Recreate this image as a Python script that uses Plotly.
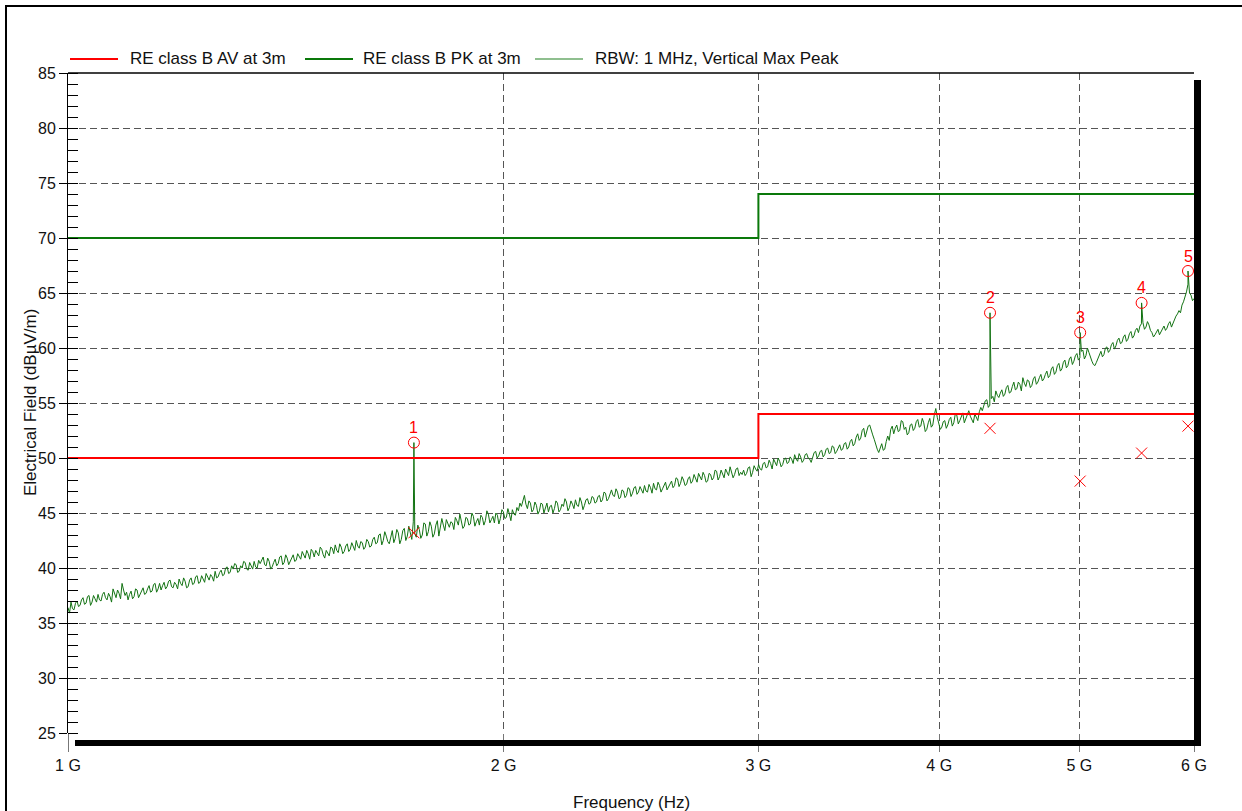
import numpy as np
import plotly.graph_objects as go

# ---- sweep data -------------------------------------------------------------
sweep_start_hz = 1e9
sweep_stop_hz = 6e9

# Max-peak level on the even sweep bins (dBuV/m), 376 bins from 1 GHz to 6 GHz
sweep_level_dbuv = [
    36.4, 36.9, 36.2, 37.0, 36.6, 37.3, 36.8, 37.5, 36.9, 37.2, 37.6, 37.0, 37.8, 37.1, 37.4, 38.1, 37.3, 37.7, 38.6, 37.5, 37.1, 37.9, 37.4, 38.0, 37.6,
    38.2, 37.7, 38.4, 37.9, 38.6, 38.1, 38.0, 38.7, 38.3, 38.9, 38.2, 38.5, 39.0, 38.4, 38.8, 38.3, 39.1, 38.6, 39.3, 38.7, 39.0, 39.5, 38.9, 39.2, 39.7,
    39.2, 39.8, 39.4, 40.1, 39.6, 39.9, 40.3, 39.7, 40.0, 40.5, 39.8, 40.2, 40.6, 40.0, 40.4, 41.0, 40.2, 40.6, 40.1, 40.8, 40.4, 41.1, 40.5, 40.9, 40.6,
    41.2, 40.7, 41.0, 41.5, 40.9, 41.3, 41.7, 41.0, 41.4, 41.9, 41.2, 41.6, 41.1, 41.8, 42.1, 41.4, 41.9, 41.5, 42.2, 41.7, 42.0, 42.5, 41.8, 42.3, 41.9,
    42.4, 42.0, 42.8, 42.3, 43.1, 42.5, 42.9, 42.2, 43.4, 42.7, 43.2, 42.6, 43.6, 42.9, 43.3, 44.2, 42.8, 43.5, 43.0, 44.0, 43.3, 43.8, 43.1, 44.3, 43.6,
    43.9, 44.4, 43.7, 44.1, 44.6, 43.9, 44.3, 43.8, 44.5, 44.0, 44.7, 44.2, 43.9, 44.6, 44.3, 44.9, 44.4, 44.1, 44.8, 44.5, 45.1, 44.6, 44.9, 45.3, 44.8,
    45.2, 45.6, 46.6, 45.4, 45.9, 45.3, 45.7, 45.2, 45.8, 45.5, 45.1, 45.7, 45.4, 45.9, 45.3, 45.6, 46.0, 45.5, 45.8, 46.2, 45.6, 46.0, 45.7, 46.3, 45.9,
    46.4, 46.0, 46.6, 46.2, 46.8, 46.3, 47.1, 46.5, 46.9, 46.4, 47.0, 46.6, 47.2, 46.8, 47.4, 46.9, 47.1, 47.5, 46.9, 47.3, 47.7, 47.1, 47.5, 47.2, 47.8,
    47.4, 47.9, 47.5, 48.1, 47.7, 48.0, 47.6, 48.3, 47.9, 48.2, 48.6, 48.0, 48.4, 47.9, 48.5, 48.2, 48.8, 48.3, 48.6, 49.0, 48.4, 48.8, 48.5, 49.1, 48.7,
    48.9, 48.6, 49.2, 48.7, 49.0, 49.4, 48.9, 49.6, 49.2, 49.5, 49.9, 49.3, 49.7, 49.4, 50.0, 49.6, 49.9, 50.3, 49.7, 50.1, 49.8, 50.4, 49.9, 50.2, 50.6,
    50.2, 50.7, 50.3, 50.9, 50.5, 51.0, 50.6, 51.2, 50.8, 51.4, 51.0, 51.7, 51.3, 52.2, 51.8, 52.7, 52.3, 53.0, 52.1, 51.2, 50.5, 51.3, 50.8, 52.0, 52.6,
    52.2, 53.0, 52.5, 53.3, 52.8, 52.3, 53.1, 52.7, 53.5, 52.9, 53.2, 52.6, 53.6, 53.0, 54.5, 53.2, 52.8, 53.4, 53.0, 53.7, 53.2, 53.9, 53.4, 54.1, 53.6,
    54.3, 53.5, 54.0, 53.4, 54.6, 54.9, 55.3, 54.8, 55.6, 56.1, 55.5, 56.2, 55.8, 56.6, 56.0, 56.9, 56.3, 56.7, 57.3, 56.5, 57.0, 56.6, 57.4, 56.9, 57.6,
    57.2, 57.9, 57.5, 58.3, 57.8, 58.6, 58.1, 58.9, 58.4, 59.2, 58.8, 59.5, 59.1, 59.8, 59.3, 59.6, 58.8, 58.4, 59.1, 59.7, 59.4, 60.1, 59.8, 60.5, 60.2,
    60.9, 60.5, 61.2, 60.8, 61.5, 61.1, 61.8, 62.0, 62.3, 61.9, 62.1, 61.4, 61.2, 61.7, 61.5, 62.0, 61.8, 62.4, 62.3, 62.9, 63.4, 63.9, 64.6, 65.8, 64.8,
    64.5,
]

# Max-peak level on the odd sweep bins (between the even ones), 375 bins
sweep_level_odd_dbuv = [
    35.9, 36.3, 36.8, 36.5, 37.1, 36.7, 37.4, 36.6, 37.5, 36.9, 37.1, 37.6, 37.3, 37.7, 36.9, 37.6, 38.0, 37.2, 38.0, 37.8, 37.6, 37.2, 38.1, 37.3, 38.0,
    37.6, 38.1, 37.8, 38.5, 37.8, 38.6, 38.4, 38.1, 38.8, 38.3, 38.7, 38.1, 38.6, 39.1, 38.2, 38.9, 38.5, 39.2, 38.6, 39.3, 38.7, 39.1, 39.4, 38.8, 39.1,
    39.6, 39.3, 40.0, 39.5, 40.2, 40.4, 39.6, 40.2, 40.6, 39.9, 40.5, 39.9, 40.1, 40.7, 40.8, 40.3, 40.9, 39.9, 40.5, 40.2, 41.0, 40.3, 41.2, 40.3, 41.0,
    40.6, 41.3, 40.8, 41.2, 41.6, 40.8, 41.5, 41.6, 41.1, 41.7, 40.9, 41.4, 41.9, 41.3, 41.6, 42.2, 41.3, 42.0, 41.5, 42.3, 41.6, 42.0, 42.4, 41.7, 42.6,
    41.9, 42.6, 42.2, 43.0, 42.1, 43.3, 42.4, 43.0, 42.3, 43.5, 42.2, 43.4, 42.5, 43.8, 42.6, 43.1, 43.9, 42.7, 44.1, 42.9, 44.2, 42.8, 43.9, 42.9, 44.5,
    43.4, 44.0, 44.2, 43.5, 44.3, 44.9, 43.6, 44.6, 43.9, 45.0, 43.8, 44.5, 44.8, 43.9, 45.2, 44.1, 44.7, 45.0, 44.0, 45.3, 44.5, 45.4, 44.3, 44.9, 45.5,
    45.9, 46.2, 45.8, 46.1, 45.1, 46.0, 44.9, 45.9, 45.0, 45.9, 45.6, 45.0, 46.1, 45.1, 45.8, 46.3, 45.2, 46.1, 45.4, 45.7, 46.4, 45.3, 46.2, 45.8, 46.5,
    45.9, 46.5, 46.0, 46.9, 46.1, 46.7, 46.6, 47.2, 46.3, 47.1, 46.4, 47.3, 46.5, 47.3, 46.7, 47.4, 46.8, 47.0, 47.6, 46.8, 47.2, 47.8, 46.9, 47.6, 47.1,
    47.7, 47.3, 48.2, 47.4, 48.3, 47.5, 48.1, 47.7, 48.5, 47.8, 48.2, 48.7, 47.8, 48.6, 48.0, 48.9, 48.0, 48.9, 48.2, 48.6, 49.2, 48.2, 49.0, 48.4, 48.5,
    48.4, 49.1, 48.3, 49.3, 48.8, 49.0, 49.5, 49.1, 49.8, 49.0, 49.6, 50.0, 49.2, 49.9, 49.5, 50.1, 49.5, 49.9, 50.4, 49.6, 50.3, 50.0, 49.6, 50.5, 50.0,
    50.6, 50.1, 50.8, 50.4, 51.1, 50.4, 51.0, 50.7, 51.3, 50.8, 51.5, 51.1, 51.9, 51.6, 52.5, 51.9, 52.9, 52.4, 51.7, 50.8, 50.9, 50.7, 51.5, 51.6, 52.9,
    52.7, 52.4, 53.4, 52.6, 52.1, 53.0, 52.5, 53.3, 52.8, 53.6, 52.4, 53.2, 52.8, 53.9, 53.7, 52.6, 53.3, 52.7, 53.5, 52.9, 54.0, 53.1, 53.8, 53.2, 54.0,
    53.8, 53.2, 53.7, 54.2, 54.3, 55.2, 54.6, 55.4, 55.1, 55.7, 55.9, 55.6, 56.4, 55.9, 56.5, 56.2, 56.9, 56.1, 56.8, 57.1, 56.4, 57.2, 56.7, 57.3, 57.0,
    57.6, 57.3, 58.1, 57.6, 58.4, 57.9, 58.7, 58.2, 59.0, 58.5, 59.3, 58.9, 59.7, 59.0, 60.0, 59.1, 58.5, 58.7, 59.5, 59.2, 60.0, 59.6, 60.3, 59.9, 60.7,
    60.4, 61.0, 60.6, 61.3, 60.9, 61.6, 61.4, 62.2, 61.7, 62.4, 61.6, 61.0, 61.5, 61.2, 61.8, 61.6, 62.2, 61.9, 62.6, 63.1, 63.2, 64.2, 65.1, 65.0, 64.3,
]

# ---- final measurement markers -----------------------------------------------
marker_labels = ["1", "2", "3", "4", "5"]
marker_freq_ghz = [1.734, 4.337, 5.006, 5.52, 5.943]
marker_peak_dbuv = [51.4, 63.2, 61.4, 64.1, 67.0]
marker_avg_dbuv = [43.2, 52.7, 47.9, 50.45, 52.9]

# ---- limit lines (class B at 3 m) ---------------------------------------------
limit_edges_ghz = [1, 3, 6]
av_limit_dbuv = [50, 54, 54]
pk_limit_dbuv = [70, 74, 74]

# ---- axis ticks ---------------------------------------------------------------
x_tick_ghz = [1, 2, 3, 4, 5, 6]
x_tick_text = ["1 G", "2 G", "3 G", "4 G", "5 G", "6 G"]
y_range = [25, 85]

legend_names = ["RE class B AV at 3m", "RE class B PK at 3m", "RBW: 1 MHz, Vertical Max Peak"]

FONT = "Liberation Sans, Arial, sans-serif"
RED = "#ff0000"
DARK_GREEN = "#0a780a"
TRACE_GREEN = "#137313"
LEGEND_TRACE_GREEN = "#6aaa6a"
GRID = "#555555"
TEXT = "#111111"

# interleave even/odd bins into one sweep, then merge the marker peaks in
n_even = len(sweep_level_dbuv)
n_odd = len(sweep_level_odd_dbuv)
sweep_level = np.empty(n_even + n_odd)
sweep_level[0::2] = sweep_level_dbuv
sweep_level[1::2] = sweep_level_odd_dbuv
sweep_freq = np.geomspace(sweep_start_hz, sweep_stop_hz, len(sweep_level))

marker_freq_hz = np.array(marker_freq_ghz) * 1e9
all_freq = np.concatenate([sweep_freq, marker_freq_hz])
all_level = np.concatenate([sweep_level, np.array(marker_peak_dbuv)])
order = np.argsort(all_freq)
all_freq = all_freq[order]
all_level = all_level[order]

limit_edges_hz = [g * 1e9 for g in limit_edges_ghz]

fig = go.Figure()

fig.add_trace(go.Scatter(
    x=all_freq, y=all_level, mode="lines", name=legend_names[2],
    line=dict(color=TRACE_GREEN, width=1), showlegend=False,
))
fig.add_trace(go.Scatter(
    x=limit_edges_hz, y=av_limit_dbuv, mode="lines", name=legend_names[0],
    line=dict(color=RED, width=2, shape="hv"), showlegend=False,
))
fig.add_trace(go.Scatter(
    x=limit_edges_hz, y=pk_limit_dbuv, mode="lines", name=legend_names[1],
    line=dict(color=DARK_GREEN, width=2, shape="hv"), showlegend=False,
))
fig.add_trace(go.Scatter(
    x=marker_freq_hz, y=marker_peak_dbuv, mode="markers", name="Peak",
    marker=dict(symbol="circle-open", size=11, color=RED, line=dict(width=1, color=RED)),
    showlegend=False,
))
fig.add_trace(go.Scatter(
    x=marker_freq_hz, y=marker_avg_dbuv, mode="markers", name="Average",
    marker=dict(symbol="x-thin-open", size=11, color=RED, line=dict(width=1, color=RED)),
    showlegend=False,
))

# marker numbers above the peak circles
for lab, f, v in zip(marker_labels, marker_freq_hz, marker_peak_dbuv):
    fig.add_annotation(
        x=np.log10(f), y=v, text=lab, showarrow=False, yshift=15,
        font=dict(family=FONT, size=16, color=RED),
    )

# plot-area geometry in pixels
W, H = 1242, 811
L, R, T, B = 68, 1194, 73, 733
PW, PH = R - L, B - T


def px(xp):
    return (xp - L) / PW


def py(yp):
    return (B - yp) / PH


shapes = []
# outer frame (left and top edges) as thin filled bars
shapes.append(dict(type="rect", xref="paper", yref="paper",
                   x0=px(5), x1=px(7), y0=py(5), y1=py(H),
                   fillcolor="black", line=dict(width=0)))
shapes.append(dict(type="rect", xref="paper", yref="paper",
                   x0=px(5), x1=px(W), y0=py(5), y1=py(7),
                   fillcolor="black", line=dict(width=0)))
# top edge of the plot area
shapes.append(dict(type="line", xref="paper", yref="paper",
                   x0=0, x1=1, y0=1, y1=1, line=dict(color="black", width=1.5)))
# drop shadow along the bottom and right of the plot area
shapes.append(dict(type="rect", xref="paper", yref="paper",
                   x0=px(75), x1=px(1201), y0=py(740), y1=py(746),
                   fillcolor="black", line=dict(width=0)))
shapes.append(dict(type="rect", xref="paper", yref="paper",
                   x0=px(1194), x1=px(1201), y0=py(80), y1=py(746),
                   fillcolor="black", line=dict(width=0)))

# legend row along the top
legend_items = [
    (70, 118, 128, RED, 2, legend_names[0]),
    (305, 353, 361, DARK_GREEN, 2, legend_names[1]),
    (535, 583, 593, LEGEND_TRACE_GREEN, 1.5, legend_names[2]),
]
for x0, x1, xt, col, wd, name in legend_items:
    shapes.append(dict(type="line", xref="paper", yref="paper",
                       x0=px(x0), x1=px(x1), y0=py(59), y1=py(59),
                       line=dict(color=col, width=wd)))
    fig.add_annotation(
        xref="paper", yref="paper", x=px(xt), y=py(59), text=name,
        xanchor="left", yanchor="middle", showarrow=False,
        font=dict(family=FONT, size=17, color=TEXT),
    )

# axis titles
fig.add_annotation(
    xref="paper", yref="paper", x=px(30), y=0.5, text="Electrical Field (dBµV/m)",
    textangle=-90, showarrow=False, xanchor="center", yanchor="middle",
    font=dict(family=FONT, size=17, color=TEXT),
)
fig.add_annotation(
    xref="paper", yref="paper", x=px(631), y=py(802), text="Frequency (Hz)",
    showarrow=False, xanchor="center", yanchor="middle",
    font=dict(family=FONT, size=17, color=TEXT),
)

fig.update_layout(
    width=W, height=H,
    margin=dict(l=L, r=W - R, t=T, b=H - B),
    paper_bgcolor="white", plot_bgcolor="white",
    font=dict(family=FONT, size=16, color=TEXT),
    shapes=shapes,
    showlegend=False,
)

fig.update_xaxes(
    type="log",
    range=[np.log10(sweep_start_hz), np.log10(sweep_stop_hz)],
    tickvals=[g * 1e9 for g in x_tick_ghz], ticktext=x_tick_text,
    ticks="outside", ticklen=18, tickcolor="#777777", tickwidth=1,
    showgrid=True, gridcolor=GRID, griddash="7px,4px", gridwidth=1,
    showline=False, zeroline=False,
    tickfont=dict(family=FONT, size=16, color=TEXT),
)
fig.update_yaxes(
    range=y_range, dtick=5, tick0=25,
    ticks="outside", ticklen=8, tickcolor="black", tickwidth=1,
    minor=dict(dtick=1, ticks="inside", ticklen=10, tickcolor="black", showgrid=False),
    showgrid=True, gridcolor=GRID, griddash="7px,4px", gridwidth=1,
    showline=True, linecolor="black", linewidth=1, zeroline=False,
    tickfont=dict(family=FONT, size=16, color=TEXT),
)

fig.write_html("out.html")
